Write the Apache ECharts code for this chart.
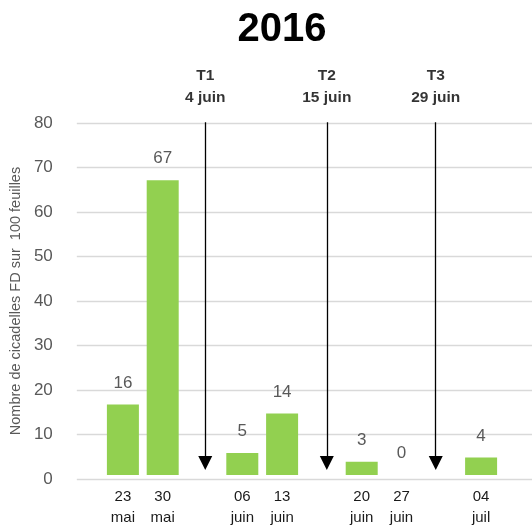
<!DOCTYPE html>
<html>
<head>
<meta charset="utf-8">
<script src="https://cdn.jsdelivr.net/npm/echarts@6/dist/echarts.min.js"></script>
<style>
html,body{margin:0;padding:0;background:#fff;}
#chart{width:532px;height:528px;}
</style>
</head>
<body>
<div id="chart"></div>
<script>
// ---- data ----
const titleText = '2016';
const categories = ['23\nmai', '30\nmai', '', '06\njuin', '13\njuin', '', '20\njuin', '27\njuin', '', '04\njuil'];
const counts = [16, 67, null, 5, 14, null, 3, 0, null, 4];
const yTicks = { min: 0, max: 80, step: 10 };
const yAxisTitle = 'Nombre de cicadelles FD sur  100 feuilles';
const treatmentLabels = ['T1\n4 juin', 'T2\n15 juin', 'T3\n29 juin'];
const treatmentSlots = [2.0, 5.08, 7.84]; // position in category-slot units
const arrowTop = 80.9, arrowTip = 3.6;

const FONT = '"Liberation Sans", Arial, sans-serif';
const chart = echarts.init(document.getElementById('chart'));

// grid geometry
const g1Left = 103, g1Right = 31, gTop = 123, gBottom = 49;
const g2Left = 73, g2Right = 0;
const plotW = 532 - g1Left - g1Right;
const slotW = plotW / categories.length;
const c0 = g1Left + slotW / 2;
const xMin2 = (g2Left - c0) / slotW;
const xMax2 = (532 - g2Right - c0) / slotW;

const option = {
  animation: false,
  backgroundColor: '#ffffff',
  title: {
    text: titleText,
    left: 277, top: 5,
    textAlign: 'center',
    textStyle: { fontFamily: FONT, fontWeight: 'bold', fontSize: 40, color: '#000' }
  },
  grid: [
    { left: g1Left, right: g1Right, top: gTop, bottom: gBottom },
    { left: g2Left, right: g2Right, top: gTop, bottom: gBottom }
  ],
  xAxis: [
    {
      type: 'category', gridIndex: 0, data: categories,
      axisLine: { show: false }, axisTick: { show: false },
      axisLabel: { interval: 0, fontFamily: FONT, fontSize: 15, lineHeight: 21, color: '#1a1a1a', margin: 11 }
    },
    {
      type: 'value', gridIndex: 1, min: xMin2, max: xMax2, show: false
    }
  ],
  yAxis: [
    {
      type: 'value', gridIndex: 0, min: yTicks.min, max: yTicks.max, interval: yTicks.step,
      show: false
    },
    {
      type: 'value', gridIndex: 1, min: yTicks.min, max: yTicks.max, interval: yTicks.step,
      axisLine: { show: false }, axisTick: { show: false },
      axisLabel: { fontFamily: FONT, fontSize: 17, color: '#595959', margin: 24 },
      splitLine: { lineStyle: { color: '#d9d9d9', width: 1.3 } },
      name: yAxisTitle, nameLocation: 'middle', nameRotate: 90, nameGap: 47,
      nameTextStyle: { fontFamily: FONT, fontSize: 14.5, color: '#595959' }
    }
  ],
  series: [
    {
      type: 'bar', xAxisIndex: 0, yAxisIndex: 0, data: counts,
      barWidth: 32,
      itemStyle: { color: '#92d050' },
      label: { show: true, position: 'top', distance: 13, fontFamily: FONT, fontSize: 17, color: '#595959' }
    },
    {
      type: 'lines', coordinateSystem: 'cartesian2d', xAxisIndex: 1, yAxisIndex: 1,
      silent: true,
      symbol: ['none', 'triangle'],
      symbolSize: 14,
      lineStyle: { color: '#000', width: 1.3, opacity: 1, curveness: 0 },
      data: treatmentSlots.map((x, i) => ({
        coords: [[x, arrowTop], [x, arrowTip]]
      }))
    },
    {
      type: 'scatter', xAxisIndex: 1, yAxisIndex: 1,
      silent: true, clip: false,
      symbolSize: 2,
      itemStyle: { color: 'rgba(255,255,255,0)' },
      label: {
        show: true, position: 'top', distance: 9,
        fontFamily: FONT, fontWeight: 'bold', fontSize: 15.5, lineHeight: 22, color: '#000',
        formatter: p => p.name
      },
      data: treatmentSlots.map((x, i) => ({ name: treatmentLabels[i], value: [x, arrowTop] }))
    }
  ]
};
chart.setOption(option);
</script>
</body>
</html>
